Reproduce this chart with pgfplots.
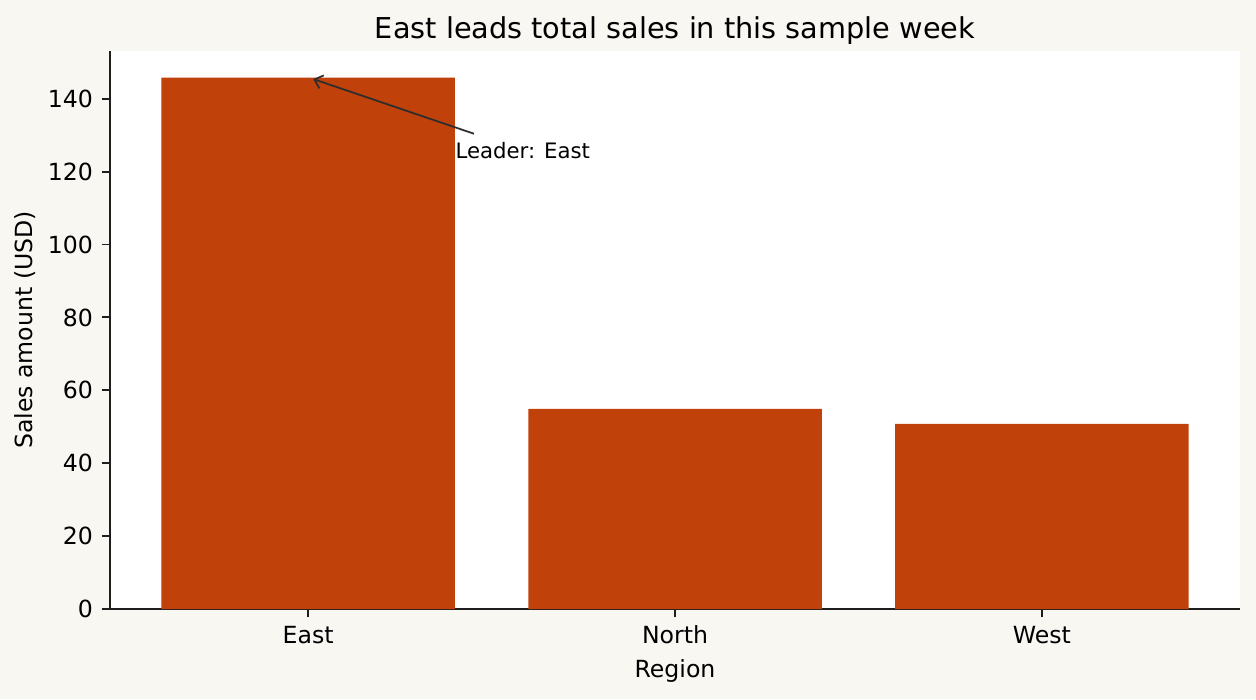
\documentclass[border=0pt]{standalone}
\usepackage{fontspec}
\setmainfont{DejaVu Sans}
\usepackage{pgfplots}
\pgfplotsset{compat=1.18}
\usetikzlibrary{arrows.meta}
\definecolor{bg}{RGB}{249,247,242}
\definecolor{barc}{RGB}{192,65,10}
\definecolor{spine}{RGB}{30,30,30}
\definecolor{arr}{RGB}{45,45,45}
\begin{document}
\begin{tikzpicture}
\fill[bg] (0,0) rectangle (502.4pt,279.6pt);
\path[use as bounding box] (0,0) rectangle (502.4pt,279.6pt);
\begin{axis}[
  at={(44pt,36pt)}, anchor=south west,
  scale only axis, width=452pt, height=223.2pt,
  xmin=-0.54, xmax=2.54, ymin=0, ymax=153.1,
  axis lines*=left,
  axis line style={spine, line width=0.75pt},
  axis background/.style={fill=white},
  ybar, bar width=0.8,
  xtick={0,1,2}, xticklabels={East,North,West},
  ytick={0,20,...,140},
  tick align=outside, major tick length=3.3pt,
  tick style={spine, line width=0.75pt},
  /pgf/number format/assume math mode=true,
  ticklabel style={font=\fontsize{9.44}{11}\selectfont, text=black},
  xticklabel style={text height=6.9pt, text depth=0pt},
  clip=false,
]
\addplot[fill=barc, draw=none] coordinates {(0,145.8) (1,54.9) (2,50.8)};
\draw[arr, line width=0.7pt, -{Straight Barb[length=3pt,width=5.5pt]}] (axis cs:0.452,130.4) -- (axis cs:0.014,145.4);
\node[anchor=base west, inner sep=0pt, font=\fontsize{8.5}{10}\selectfont] at (axis cs:0.4005,123.7) {Leader: East};
\end{axis}
\node[anchor=base, inner sep=0pt, font=\fontsize{11.5}{13}\selectfont] at (270pt,264.4pt) {East leads total sales in this sample week};
\node[anchor=base, inner sep=0pt, font=\fontsize{9.44}{11}\selectfont] at (270pt,8.8pt) {Region};
\node[rotate=90, inner sep=0pt, font=\fontsize{9.44}{11}\selectfont] at (10.2pt,147.6pt) {Sales amount (USD)};
\end{tikzpicture}
\end{document}
